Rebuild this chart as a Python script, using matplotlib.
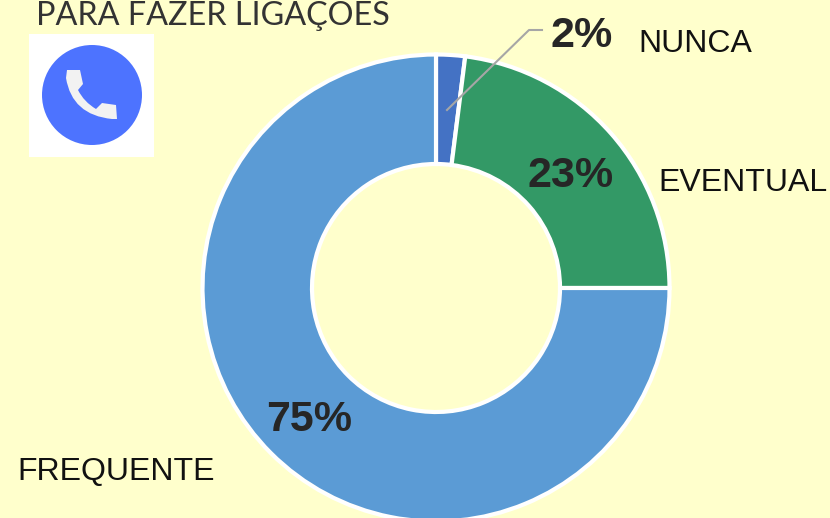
import matplotlib
matplotlib.use("Agg")
import matplotlib.pyplot as plt
from matplotlib.patches import Circle, Rectangle, PathPatch
from matplotlib.path import Path

categories = ["NUNCA", "EVENTUAL", "FREQUENTE"]
values = [2, 23, 75]
value_labels = ["2%", "23%", "75%"]
colors = ["#4472C4", "#339966", "#5B9BD5"]
title = "PARA FAZER LIGAÇOES"

BG = "#FFFFCC"
W, H = 830, 518
fig = plt.figure(figsize=(W / 100, H / 100), dpi=100, facecolor=BG)
ax = fig.add_axes([0, 0, 1, 1])

def Y(py):
    return H - py

ax.pie(values, colors=colors, startangle=90, counterclock=False,
       center=(436, Y(288)), radius=233.5,
       wedgeprops=dict(width=109.5, edgecolor="white", linewidth=3), frame=True)
ax.set_xlim(0, W)
ax.set_ylim(0, H)
ax.set_aspect("auto")
ax.set_axis_off()

sans = "Liberation Sans"
ax.text(36, Y(25), title, fontsize=23.3, family="Lato", color="#333333", va="baseline")

ax.text(638, Y(52), categories[0], fontsize=23, family=sans, color="#111111")
ax.text(658, Y(191), categories[1], fontsize=23, family=sans, color="#111111")
ax.text(17, Y(480), categories[2], fontsize=23, family=sans, color="#111111")

ax.text(550, Y(47), value_labels[0], fontsize=31, family=sans, fontweight="bold", color="#262626")
ax.text(527, Y(187), value_labels[1], fontsize=31, family=sans, fontweight="bold", color="#262626")
ax.text(266, Y(431), value_labels[2], fontsize=31, family=sans, fontweight="bold", color="#262626")

ax.plot([447, 529, 542], [Y(110), Y(30), Y(30)], color="#A6A6A6", lw=1.5, zorder=5)

# phone icon
ax.add_patch(Rectangle((29, Y(157)), 125, 123, fc="white", ec="none", zorder=3))
ax.add_patch(Circle((92, Y(95)), 50, fc="#4D73FF", ec="none", zorder=4))
codes = [Path.MOVETO, Path.LINETO, Path.LINETO, Path.LINETO, Path.LINETO,
         Path.CURVE3, Path.CURVE3, Path.LINETO, Path.LINETO, Path.LINETO, Path.LINETO,
         Path.CURVE3, Path.CURVE3, Path.CLOSEPOLY]
verts = [(67, 70), (80, 70), (83, 84), (78, 90), (78, 90),
         (84, 102), (96, 109), (102, 103), (116, 105), (117, 119), (112, 119),
         (72, 115), (66, 78), (67, 70)]
ax.add_patch(PathPatch(Path([(x, Y(y)) for x, y in verts], codes), fc="#F2F2F2", ec="none", zorder=5))

fig.savefig("out.png", dpi=100, facecolor=BG)
